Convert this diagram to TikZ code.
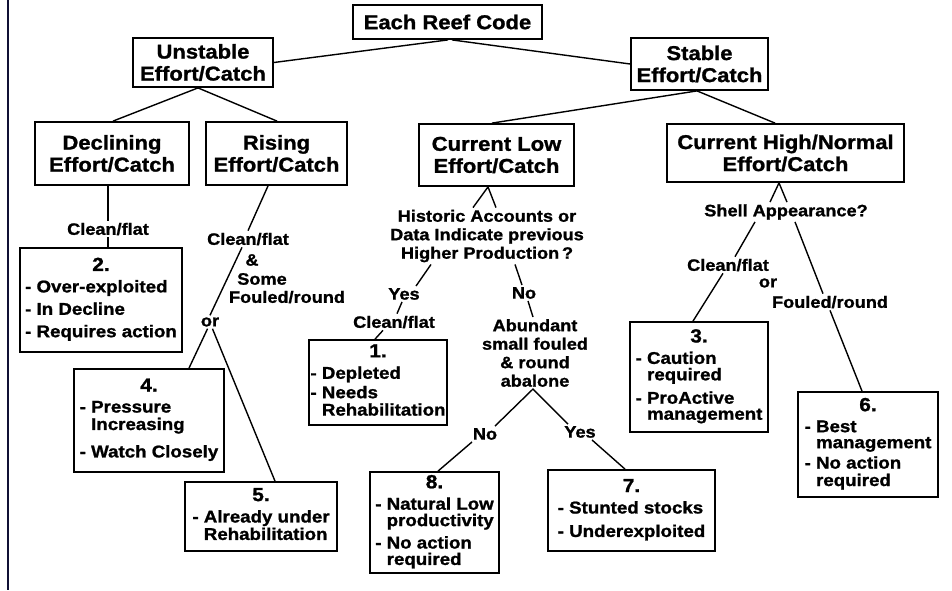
\documentclass[tikz,border=0pt]{standalone}
\usepackage{fontspec}
\setmainfont{Liberation Sans}[FakeStretch=1.1, BoldFeatures={FakeBold=1.2}]
\usepackage{tikz}
\definecolor{Rule}{HTML}{101035}

\newcommand{\indt}{\phantom{- }}
\newcommand{\outcome}[2]{\begin{tabular}{@{}l@{}}\multicolumn{1}{@{}c@{}}{\fontsize{19}{19}\selectfont #1}\\[4pt]#2\end{tabular}}

\tikzset{
  catbox/.style 2 args={draw, line width=1.8pt, align=center, inner sep=0pt,
    minimum width=#1pt, minimum height=#2pt, font=\fontsize{20}{22}\selectfont\bfseries},
  outbox/.style 2 args={draw, line width=1.8pt, inner sep=0pt,
    minimum width=#1pt, minimum height=#2pt, font=\fontsize{17}{17}\selectfont\bfseries},
  lbl/.style={align=center, inner sep=1.5pt, font=\fontsize{16.5}{18.5}\selectfont\bfseries},
}

\begin{document}
\begin{tikzpicture}[x=1pt,y=-1pt,line width=1.4pt]
  \useasboundingbox (0,0) rectangle (952,590);
  \draw[Rule,line width=2.6pt] (8,0) -- (8,590);

  % category boxes
  \node[catbox={189}{34}] (reef) at (447.5,22) {Each Reef Code};
  \node[catbox={140}{49}] (unst) at (203,62.5) {Unstable\\Effort/Catch};
  \node[catbox={137}{52}] (stab) at (699.5,64) {Stable\\Effort/Catch};
  \node[catbox={154}{63}] (decl) at (112,153.5) {Declining\\Effort/Catch};
  \node[catbox={141}{63}] (rise) at (276.5,153.5) {Rising\\Effort/Catch};
  \node[catbox={155}{62}] (low) at (496.5,155) {Current Low\\Effort/Catch};
  \node[catbox={237}{58}] (high) at (785.5,153) {Current High/Normal\\Effort/Catch};

  % outcome boxes
  \node[outbox={162}{104}] (b2) at (101,300) {\outcome{2.}{- Over-exploited\\[5pt]- In Decline\\[5pt]- Requires action}};
  \node[outbox={150}{103}] (b4) at (149,420.5) {\outcome{4.}{- Pressure\\\indt Increasing\\[10pt]- Watch Closely}};
  \node[outbox={152}{69}] (b5) at (261,516.5) {\outcome{5.}{- Already under\\\indt Rehabilitation}};
  \node[outbox={138}{85}] (b1) at (378,382.5) {\outcome{1.}{- Depleted\\[2pt]- Needs\\\indt Rehabilitation}};
  \node[outbox={129}{101}] (b8) at (434.5,522.5) {\outcome{8.}{- Natural Low\\[-1pt]\indt productivity\\[5pt]- No action\\[-1pt]\indt required}};
  \node[outbox={167}{81}] (b7) at (631.5,510.5) {\outcome{7.}{- Stunted stocks\\[6pt]- Underexploited}};
  \node[outbox={138}{110}] (b3) at (699,377) {\outcome{3.}{- Caution\\[-1pt]\indt required\\[6pt]- ProActive\\[-1pt]\indt management}};
  \node[outbox={140}{105}] (b6) at (868,444.5) {\outcome{6.}{- Best\\[-1pt]\indt management\\[3pt]- No action\\[0pt]\indt required}};

  % branch labels
  \node[lbl] (cfD) at (108,229) {Clean/flat};
  \node[lbl] (cfR) at (248,239) {Clean/flat};
  \node[lbl] (ampR) at (252,260) {\&};
  \node[lbl] (someR) at (262,279) {Some};
  \node[lbl] (foulR) at (287,297) {Fouled/round};
  \node[lbl] (orR) at (210,322) {or};
  \node[lbl] (hist) at (487,236) {Historic Accounts or\\Data Indicate previous\\Higher Production\,?};
  \node[lbl] (yes1) at (404,294) {Yes};
  \node[lbl] (cfY) at (394,322) {Clean/flat};
  \node[lbl] (no1) at (524,293) {No};
  \node[lbl] (abun) at (535,353) {Abundant\\small fouled\\\& round\\abalone};
  \node[lbl] (no2) at (485,434) {No};
  \node[lbl] (yes2) at (580,432) {Yes};
  \node[lbl] (shell) at (786,212) {Shell Appearance?};
  \node[lbl] (cfH) at (728,265) {Clean/flat};
  \node[lbl] (orH) at (768,283) {or};
  \node[lbl] (foulH) at (830,302) {Fouled/round};

  % connectors
  \draw (448,0 |- reef.south) -- (unst.east);
  \draw (452,0 |- reef.south) -- (stab.west);
  \draw (113,0 |- decl.north) -- (198,0 |- unst.south) -- (277,0 |- rise.north);
  \draw (492,0 |- low.north) -- (697,0 |- stab.south) -- (775,0 |- high.north);
  \draw (108,0 |- decl.south) -- (cfD.north);
  \draw (cfD.south) -- (108,0 |- b2.north);
  \draw (268,0 |- rise.south) -- (cfR.north);
  \draw (242,0 |- cfR.south) -- (orR.north);
  \draw (orR.250) -- (189,0 |- b4.north);
  \draw (orR.290) -- (275,0 |- b5.north);
  \draw (473,0 |- hist.north) -- (488,0 |- low.south) -- (496,0 |- hist.north);
  \draw (431,0 |- hist.south) -- (416,0 |- yes1.north);
  \draw (402,0 |- yes1.south) -- (397,0 |- cfY.north);
  \draw (383,0 |- cfY.south) -- (375,0 |- b1.north);
  \draw (515,0 |- hist.south) -- (522,0 |- no1.north);
  \draw (528,0 |- no1.south) -- (533,0 |- abun.north);
  \draw (495,0 |- no2.north) -- (533,0 |- abun.south) -- (568,0 |- yes2.north);
  \draw (472,0 |- no2.south) -- (438,0 |- b8.north);
  \draw (592,0 |- yes2.south) -- (625,0 |- b7.north);
  \draw (770,0 |- shell.north) -- (779,0 |- high.south) -- (787,0 |- shell.north);
  \draw (755,0 |- shell.south) -- (735,0 |- cfH.north);
  \draw (723,0 |- cfH.south) -- (693,0 |- b3.north);
  \draw (795,0 |- shell.south) -- (823,0 |- foulH.north);
  \draw (830,0 |- foulH.south) -- (862,0 |- b6.north);
\end{tikzpicture}
\end{document}
